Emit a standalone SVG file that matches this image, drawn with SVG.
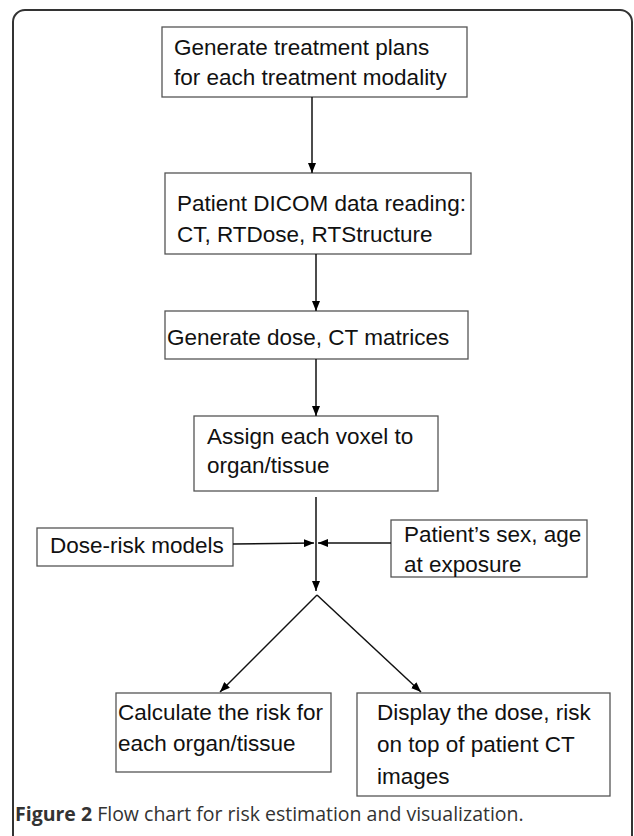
<svg xmlns="http://www.w3.org/2000/svg" width="634" height="836" viewBox="0 0 634 836">
<defs>
<marker id="ah" markerWidth="10" markerHeight="8" refX="10" refY="4" orient="auto" markerUnits="userSpaceOnUse">
<path d="M0,0 L10,4 L0,8 Z" fill="#000"/>
</marker>
<style>
.box{fill:#fff;stroke:#555;stroke-width:1.3}
.t{font-family:"Liberation Sans",Arial,sans-serif;font-size:22.5px;fill:#111}
.c{stroke:#111;stroke-width:1.5;fill:none}
.cap{font-family:"Open Sans","Liberation Sans",sans-serif;font-size:19.5px;fill:#333}
</style>
</defs>
<rect width="634" height="836" fill="#fff"/>
<path d="M13,836 V22 A12,12 0 0 1 25,10 H620 A12,12 0 0 1 632,22 V836" fill="none" stroke="#333" stroke-width="2"/>
<g id="n1"><rect class="box" x="162" y="27" width="305" height="70"/><text class="t" x="174" y="55">Generate treatment plans</text><text class="t" x="174" y="85">for each treatment modality</text></g>
<g id="n2"><rect class="box" x="165" y="173" width="306" height="81"/><text class="t" x="177" y="211">Patient DICOM data reading:</text><text class="t" x="177" y="242">CT, RTDose, RTStructure</text></g>
<g id="n3"><rect class="box" x="165" y="311" width="303" height="48"/><text class="t" x="167" y="345">Generate dose, CT matrices</text></g>
<g id="n4"><rect class="box" x="194" y="416" width="244" height="75"/><text class="t" x="207" y="444">Assign each voxel to</text><text class="t" x="207" y="473">organ/tissue</text></g>
<g id="n5"><rect class="box" x="37" y="528" width="196" height="38"/><text class="t" x="50" y="553">Dose-risk models</text></g>
<g id="n6"><rect class="box" x="391" y="520" width="196" height="57"/><text class="t" x="404" y="542">Patient’s sex, age</text><text class="t" x="404" y="572">at exposure</text></g>
<g id="n7"><rect class="box" x="116" y="693" width="215" height="79"/><text class="t" x="118" y="720">Calculate the risk for</text><text class="t" x="118" y="751">each organ/tissue</text></g>
<g id="n8"><rect class="box" x="357" y="693" width="253" height="103"/><text class="t" x="377" y="720">Display the dose, risk</text><text class="t" x="377" y="752">on top of patient CT</text><text class="t" x="377" y="784">images</text></g>
<g id="connectors">
<line class="c" x1="312" y1="97" x2="312" y2="173" marker-end="url(#ah)"/>
<line class="c" x1="316" y1="254" x2="316" y2="311" marker-end="url(#ah)"/>
<line class="c" x1="316" y1="359" x2="316" y2="416" marker-end="url(#ah)"/>
<line class="c" x1="316" y1="497" x2="316" y2="591" marker-end="url(#ah)"/>
<line class="c" x1="233" y1="544" x2="314" y2="543" marker-end="url(#ah)"/>
<line class="c" x1="391" y1="543" x2="318" y2="543" marker-end="url(#ah)"/>
<line class="c" x1="317" y1="595" x2="220" y2="692" marker-end="url(#ah)"/>
<line class="c" x1="317" y1="595" x2="421" y2="692" marker-end="url(#ah)"/>
</g>
<text class="cap" x="15" y="821"><tspan font-weight="bold">Figure 2</tspan> Flow chart for risk estimation and visualization.</text>
</svg>
